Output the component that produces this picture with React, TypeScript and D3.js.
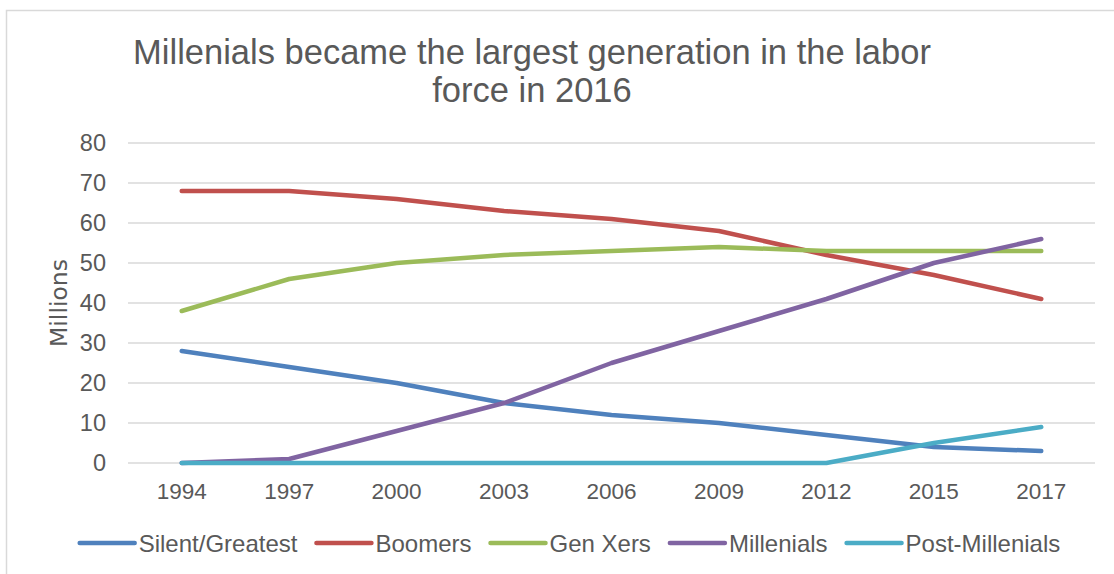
import React, { useEffect, useRef } from "react";
import * as d3 from "d3";

const years = ["1994", "1997", "2000", "2003", "2006", "2009", "2012", "2015", "2017"];
const silentGreatest = [28, 24, 20, 15, 12, 10, 7, 4, 3];
const boomers = [68, 68, 66, 63, 61, 58, 52, 47, 41];
const genXers = [38, 46, 50, 52, 53, 54, 53, 53, 53];
const millenials = [0, 1, 8, 15, 25, 33, 41, 50, 56];
const postMillenials = [0, 0, 0, 0, 0, 0, 0, 5, 9];
const yTicks = [0, 10, 20, 30, 40, 50, 60, 70, 80];
const titleLines = ["Millenials became the largest generation in the labor", "force in 2016"];

const seriesNames = ["Silent/Greatest", "Boomers", "Gen Xers", "Millenials", "Post-Millenials"];
const seriesColors = ["#4F81BD", "#C0504D", "#9BBB59", "#8064A2", "#4BACC6"];

export default function App() {
  const ref = useRef<SVGSVGElement | null>(null);

  useEffect(() => {
    const W = 1114, H = 574;
    const svg = d3.select(ref.current);
    svg.selectAll("*").remove();
    const font = "'Liberation Sans', Arial, sans-serif";
    const textColor = "#595959";
    const seriesData = [silentGreatest, boomers, genXers, millenials, postMillenials];

    svg.append("rect").attr("x", 6.5).attr("y", 10.5).attr("width", W + 20).attr("height", H + 20)
      .attr("fill", "#fff").attr("stroke", "#d9d9d9").attr("stroke-width", 1.5);

    const m = { left: 128, right: 1095, top: 143, bottom: 463 };
    const x = d3.scaleBand<string>().domain(years).range([m.left, m.right]);
    const y = d3.scaleLinear().domain([0, 80]).range([m.bottom, m.top]);

    // title
    const title = svg.append("text").attr("font-family", font).attr("font-size", 34.5).attr("fill", textColor)
      .attr("text-anchor", "middle");
    titleLines.forEach((t, i) => {
      title.append("tspan").attr("x", 532).attr("y", 64 + i * 38).text(t);
    });

    // gridlines
    svg.append("g").selectAll("line").data(yTicks).join("line")
      .attr("x1", m.left).attr("x2", m.right)
      .attr("y1", (d) => y(d)).attr("y2", (d) => y(d))
      .attr("stroke", "#d9d9d9").attr("stroke-width", 1.5);

    // y tick labels
    svg.append("g").selectAll("text").data(yTicks).join("text")
      .attr("x", 106).attr("y", (d) => y(d)).attr("dy", "0.36em")
      .attr("text-anchor", "end").attr("font-family", font).attr("font-size", 23.5).attr("fill", textColor)
      .text((d) => String(d));

    // x tick labels
    svg.append("g").selectAll("text").data(years).join("text")
      .attr("x", (d) => (x(d) as number) + x.bandwidth() / 2).attr("y", 499)
      .attr("text-anchor", "middle").attr("font-family", font).attr("font-size", 22.5).attr("fill", textColor)
      .text((d) => d);

    // y axis title
    svg.append("text")
      .attr("transform", `translate(67,${(m.top + m.bottom) / 2}) rotate(-90)`)
      .attr("text-anchor", "middle").attr("font-family", "'DejaVu Sans', sans-serif").attr("font-size", 23.5)
      .attr("fill", textColor).text("Millions");

    // lines
    const line = d3.line<number>()
      .x((_, i) => (x(years[i]) as number) + x.bandwidth() / 2)
      .y((d) => y(d));
    seriesData.forEach((s, i) => {
      svg.append("path").attr("d", line(s) as string).attr("fill", "none")
        .attr("stroke", seriesColors[i]).attr("stroke-width", 4.5)
        .attr("stroke-linecap", "round").attr("stroke-linejoin", "round");
    });

    // legend
    const lg = svg.append("g");
    const lineLen = 55, gapText = 4, gapItem = 19, legY = 543;
    const items = seriesNames.map((n, i) => {
      const g = lg.append("g");
      g.append("line").attr("x1", 0).attr("x2", lineLen).attr("y1", 0).attr("y2", 0)
        .attr("stroke", seriesColors[i]).attr("stroke-width", 4.5).attr("stroke-linecap", "round");
      const t = g.append("text").attr("x", lineLen + gapText).attr("y", 0).attr("dy", "0.36em")
        .attr("font-family", font).attr("font-size", 24).attr("fill", textColor).text(n);
      const w = (t.node() as SVGTextElement).getComputedTextLength();
      return { g, w: lineLen + gapText + w };
    });
    const total = items.reduce((a, it) => a + it.w, 0) + gapItem * (items.length - 1);
    let cx = 570 - total / 2;
    items.forEach((it) => {
      it.g.attr("transform", `translate(${cx},${legY})`);
      cx += it.w + gapItem;
    });
  }, []);

  return (
    <div style={{ position: "fixed", left: 0, top: 0, width: 1114, height: 574, background: "#fff" }}>
      <svg ref={ref} width={1114} height={574} style={{ display: "block" }} />
    </div>
  );
}
